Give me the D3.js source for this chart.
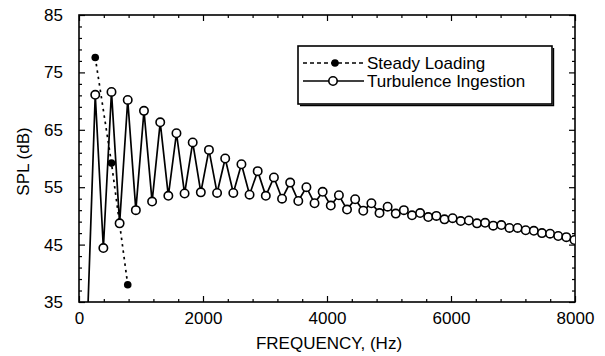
<!DOCTYPE html>
<html>
<head>
<meta charset="utf-8">
<script src="https://cdn.jsdelivr.net/npm/d3@7"></script>
<style>
  body { margin: 0; background: #fff; overflow: hidden; }
  svg { display: block; font-family: "Liberation Sans", Arial, Helvetica, sans-serif; }
</style>
</head>
<body>
<div id="chart"></div>
<script>
// Turbulence ingestion: frequency (Hz) and SPL (dB)
const turbFreq = [131, 262, 393, 524, 655, 786, 917, 1048, 1179, 1310,
  1441, 1572, 1703, 1834, 1965, 2096, 2227, 2358, 2489, 2620,
  2751, 2882, 3013, 3144, 3275, 3406, 3537, 3668, 3799, 3930,
  4061, 4192, 4323, 4454, 4585, 4716, 4847, 4978, 5109, 5240,
  5371, 5502, 5633, 5764, 5895, 6026, 6157, 6288, 6419, 6550,
  6681, 6812, 6943, 7074, 7205, 7336, 7467, 7598, 7729, 7860, 7991];
const turbSpl = [30, 71.1, 44.4, 71.6, 48.7, 70.2, 51.0, 68.3, 52.5, 66.3,
  53.5, 64.4, 53.9, 62.8, 54.1, 61.5, 54.0, 60.0, 54.0, 59.0,
  53.7, 57.8, 53.5, 56.7, 53.0, 55.8, 52.6, 55.0, 52.2, 54.2,
  51.8, 53.6, 51.1, 52.9, 50.9, 52.2, 50.5, 51.6, 50.4, 51.0,
  50.1, 50.5, 49.8, 50.0, 49.4, 49.6, 49.1, 49.2, 48.7, 48.8,
  48.3, 48.4, 47.9, 47.9, 47.5, 47.4, 47.0, 46.9, 46.5, 46.3, 45.8];

// Steady loading
const steadyFreq = [262, 524, 786];
const steadySpl = [77.6, 59.2, 38.0];

const xTicks = [0, 2000, 4000, 6000, 8000];
const yTicks = [35, 45, 55, 65, 75, 85];
const seriesNames = ['Steady Loading', 'Turbulence Ingestion'];

const width = 605, height = 356;
const margin = { top: 15, right: 30, bottom: 54, left: 79 };
const innerWidth = width - margin.left - margin.right;
const innerHeight = height - margin.top - margin.bottom;

const svg = d3.select('#chart').append('svg')
  .attr('width', width)
  .attr('height', height);

const g = svg.append('g')
  .attr('transform', `translate(${margin.left},${margin.top})`);

const x = d3.scaleLinear().domain([0, 8000]).range([0, innerWidth]);
const y = d3.scaleLinear().domain([35, 85]).range([innerHeight, 0]);

g.append('clipPath').attr('id', 'plot-clip')
  .append('rect').attr('width', innerWidth).attr('height', innerHeight);

// Ticks (inward, all four sides)
const xMinor = d3.range(0, 8001, 400).filter(v => !xTicks.includes(v));
const yMinor = d3.range(35, 86, 2).filter(v => !yTicks.includes(v));

function tickAxes(axisFn, scale, values, size, transform) {
  const a = g.append('g')
    .attr('transform', transform)
    .call(axisFn(scale).tickValues(values).tickSize(size));
  a.select('.domain').remove();
  a.selectAll('text').remove();
  a.selectAll('line').attr('stroke', '#000').attr('stroke-width', 1.2);
}
tickAxes(d3.axisTop, x, xTicks, 6, `translate(0,${innerHeight})`);
tickAxes(d3.axisTop, x, xMinor, 3, `translate(0,${innerHeight})`);
tickAxes(d3.axisBottom, x, xTicks, 6, 'translate(0,0)');
tickAxes(d3.axisBottom, x, xMinor, 3, 'translate(0,0)');
tickAxes(d3.axisRight, y, yTicks, 6, 'translate(0,0)');
tickAxes(d3.axisRight, y, yMinor, 3, 'translate(0,0)');
tickAxes(d3.axisLeft, y, yTicks, 6, `translate(${innerWidth},0)`);
tickAxes(d3.axisLeft, y, yMinor, 3, `translate(${innerWidth},0)`);

// Tick labels
const xLab = g.append('g')
  .attr('transform', `translate(0,${innerHeight})`)
  .call(d3.axisBottom(x).tickValues(xTicks).tickSize(0).tickPadding(10).tickFormat(d3.format('d')));
xLab.select('.domain').remove();
xLab.selectAll('text').attr('font-size', 17).attr('font-family', null).attr('fill', '#000');

const yLab = g.append('g')
  .call(d3.axisLeft(y).tickValues(yTicks).tickSize(0).tickPadding(16).tickFormat(d3.format('d')));
yLab.select('.domain').remove();
yLab.selectAll('text').attr('font-size', 17).attr('font-family', null).attr('fill', '#000');

// Frame
g.append('rect')
  .attr('width', innerWidth).attr('height', innerHeight)
  .attr('fill', 'none').attr('stroke', '#000').attr('stroke-width', 1.6);

// Axis titles
svg.append('text')
  .attr('x', 329)
  .attr('y', 349)
  .attr('text-anchor', 'middle')
  .attr('font-size', 17)
  .attr('fill', '#000')
  .text('FREQUENCY, (Hz)');

svg.append('text')
  .attr('transform', `translate(29,${margin.top + innerHeight / 2 + 3}) rotate(-90)`)
  .attr('text-anchor', 'middle')
  .attr('font-size', 17)
  .attr('fill', '#000')
  .text('SPL (dB)');

// Series
const plot = g.append('g').attr('clip-path', 'url(#plot-clip)');
const turb = turbFreq.map((f, i) => ({ f, v: turbSpl[i] }));
const steady = steadyFreq.map((f, i) => ({ f, v: steadySpl[i] }));
const line = d3.line().x(d => x(d.f)).y(d => y(d.v));

plot.append('path').datum(turb)
  .attr('d', line)
  .attr('fill', 'none').attr('stroke', '#000').attr('stroke-width', 1.7);

plot.append('path').datum(steady)
  .attr('d', line)
  .attr('fill', 'none').attr('stroke', '#000').attr('stroke-width', 1.7)
  .attr('stroke-dasharray', '2.5,4');

plot.selectAll('.turb-pt').data(turb).enter().append('circle')
  .attr('class', 'turb-pt')
  .attr('cx', d => x(d.f)).attr('cy', d => y(d.v)).attr('r', 4.2)
  .attr('fill', '#fff').attr('stroke', '#000').attr('stroke-width', 1.6);

plot.selectAll('.steady-pt').data(steady).enter().append('circle')
  .attr('class', 'steady-pt')
  .attr('cx', d => x(d.f)).attr('cy', d => y(d.v)).attr('r', 3.8)
  .attr('fill', '#000');

// Legend
const leg = svg.append('g').attr('transform', 'translate(298,46)');
leg.append('rect')
  .attr('width', 254).attr('height', 58)
  .attr('fill', '#fff').attr('stroke', '#000').attr('stroke-width', 1.6);
leg.append('path')
  .attr('d', 'M2,59.5 H255.5 V2')
  .attr('fill', 'none').attr('stroke', '#000').attr('stroke-width', 1.4);

const rowY = [17, 35];
leg.append('line')
  .attr('x1', 5).attr('x2', 66).attr('y1', rowY[0]).attr('y2', rowY[0])
  .attr('stroke', '#000').attr('stroke-width', 1.7).attr('stroke-dasharray', '4,3');
leg.append('circle').attr('cx', 37).attr('cy', rowY[0]).attr('r', 3.8).attr('fill', '#000');

leg.append('line')
  .attr('x1', 5).attr('x2', 66).attr('y1', rowY[1]).attr('y2', rowY[1])
  .attr('stroke', '#000').attr('stroke-width', 1.7);
leg.append('circle').attr('cx', 35).attr('cy', rowY[1]).attr('r', 4.2)
  .attr('fill', '#fff').attr('stroke', '#000').attr('stroke-width', 1.6);

leg.selectAll('.leg-text').data(seriesNames).enter().append('text')
  .attr('class', 'leg-text')
  .attr('x', 69).attr('y', (d, i) => rowY[i] + 6)
  .attr('font-size', 17)
  .attr('fill', '#000')
  .text(d => d);
</script>
</body>
</html>
